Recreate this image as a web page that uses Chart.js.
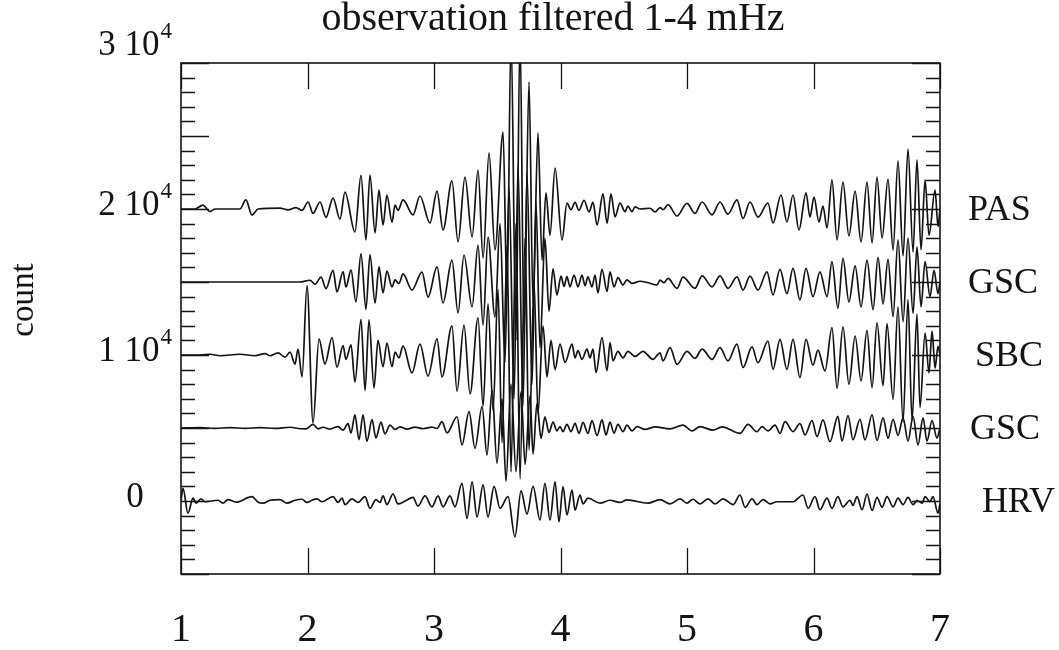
<!DOCTYPE html>
<html>
<head>
    <title>observation filtered 1-4 mHz</title>
    <style>
        body { margin: 0; background: #ffffff; }
        #wrap { width: 1059px; height: 650px; }
    </style>
    <script src="https://cdn.jsdelivr.net/npm/chart.js"></script>
</head>
<body>
<div id="wrap"><canvas id="seisChart" width="1059" height="650"></canvas></div>
<script>
    // axis / label data
    const titleText = 'observation filtered 1-4 mHz';
    const yAxisTitle = 'count';
    const xTickValues = [1, 2, 3, 4, 5, 6, 7];
    const yLabelValues = [30000, 20000, 10000, 0];
    const yLabelMantissa = ['3', '2', '1', '0'];
    const stations = ['PAS', 'GSC', 'SBC', 'GSC', 'HRV'];
    const stationOffsets = [20000, 15000, 10000, 5000, 0];

    // traces: [time, count relative to the trace baseline], read peak by peak
    const pasTrace = [[1.000,0],[1.111,0],[1.174,270],[1.205,0],[1.229,-180],[1.269,0],[1.466,0],[1.513,620],[1.561,-410],[1.609,0],
        [1.783,60],[1.846,-60],[1.909,100],[1.957,-100],[2.004,480],[2.044,-300],[2.099,480],[2.146,-570],[2.202,750],[2.257,-700],
        [2.296,1160],[2.375,-1570],[2.423,2300],[2.462,-2120],[2.494,2330],[2.534,-1640],[2.565,1300],[2.597,-1100],[2.628,960],[2.668,-900],
        [2.692,270],[2.715,-100],[2.755,620],[2.834,-410],[2.889,890],[2.968,-960],[3.024,1230],[3.071,-1440],[3.142,1920],[3.190,-2260],
        [3.245,2190],[3.301,-1920],[3.348,2670],[3.388,-3360],[3.435,3840],[3.482,-2800],[3.546,5270],[3.577,-6000],[3.609,12000],[3.648,-9000],
        [3.680,12000],[3.712,-8500],[3.751,8700],[3.783,-6500],[3.822,5200],[3.854,-3500],[3.885,1100],[3.917,-1800],[3.957,2800],[4.012,-2120],
        [4.051,400],[4.083,-50],[4.115,450],[4.146,-100],[4.186,600],[4.225,-200],[4.257,450],[4.289,-1100],[4.336,1030],[4.368,-980],
        [4.399,1030],[4.431,-530],[4.470,400],[4.510,-180],[4.533,200],[4.565,-180],[4.589,150],[4.628,0],[4.708,50],[4.747,-200],
        [4.787,100],[4.810,-50],[4.850,300],[4.921,-480],[5.000,390],[5.063,-300],[5.119,480],[5.198,-400],[5.261,480],[5.324,-350],
        [5.395,620],[5.443,-650],[5.498,480],[5.561,-550],[5.640,410],[5.680,-960],[5.743,960],[5.790,-890],[5.838,960],[5.885,-1440],
        [5.941,1100],[5.972,-550],[6.004,820],[6.043,-890],[6.075,200],[6.107,-1300],[6.146,1990],[6.186,-2120],[6.233,1850],[6.280,-1850],
        [6.329,1230],[6.376,-2260],[6.423,1850],[6.463,-2330],[6.502,2190],[6.542,-1990],[6.589,2050],[6.629,-2810],[6.668,3290],[6.708,-3220],
        [6.747,4110],[6.787,-2950],[6.818,3360],[6.850,-2800],[6.882,1990],[6.913,-1800],[6.961,1300],[6.984,-1200],[7.000,0]];

    const gscTrace = [[1.000,0],[1.941,0],[2.020,120],[2.060,-150],[2.107,340],[2.146,-450],[2.202,800],[2.233,-680],[2.281,710],[2.304,-340],
        [2.344,820],[2.383,-1370],[2.423,1950],[2.462,-1870],[2.494,1870],[2.534,-1440],[2.565,1030],[2.597,-750],[2.628,750],[2.668,-340],
        [2.692,150],[2.723,-100],[2.755,550],[2.826,-550],[2.905,680],[2.953,-1030],[3.024,1030],[3.071,-1440],[3.142,1500],[3.190,-2120],
        [3.237,1850],[3.301,-1710],[3.348,2530],[3.388,-2950],[3.427,3080],[3.482,-2400],[3.522,4000],[3.561,-5500],[3.593,6500],[3.633,-8000],
        [3.664,8000],[3.704,-8500],[3.735,7500],[3.775,-7000],[3.806,5500],[3.838,-4500],[3.877,3000],[3.909,-2000],[3.941,900],[3.972,-900],
        [4.004,400],[4.028,-300],[4.051,370],[4.075,-330],[4.107,480],[4.138,-330],[4.170,480],[4.194,-250],[4.217,350],[4.249,-330],
        [4.273,480],[4.296,-750],[4.328,870],[4.368,-650],[4.391,700],[4.423,-330],[4.454,300],[4.494,-200],[4.525,150],[4.565,-100],
        [4.628,50],[4.692,-50],[4.763,-200],[4.787,130],[4.818,-50],[4.850,250],[4.921,-430],[4.968,330],[5.063,-430],[5.119,420],
        [5.198,-330],[5.261,420],[5.324,-430],[5.395,350],[5.443,-550],[5.498,400],[5.561,-550],[5.632,700],[5.680,-890],[5.735,870],
        [5.790,-800],[5.838,930],[5.893,-1230],[5.941,930],[5.996,-1000],[6.051,700],[6.107,-1000],[6.146,1390],[6.193,-1800],[6.233,1620],
        [6.280,-1370],[6.329,1100],[6.376,-1700],[6.423,1500],[6.471,-1900],[6.510,1690],[6.550,-1500],[6.589,1550],[6.629,-2370],[6.668,2880],
        [6.708,-2720],[6.747,3000],[6.787,-2150],[6.818,2400],[6.850,-1700],[6.882,1400],[6.921,-1000],[6.953,800],[6.984,-800],[7.000,0]];

    const sbcTrace = [[1.000,0],[1.150,0],[1.229,50],[1.308,-50],[1.466,50],[1.585,-50],[1.664,100],[1.704,-50],[1.767,150],[1.822,-150],
        [1.862,200],[1.901,-620],[1.925,410],[1.957,-1500],[1.996,4750],[2.044,-4650],[2.091,1100],[2.138,-620],[2.194,1200],[2.233,-840],
        [2.281,640],[2.304,-300],[2.344,700],[2.375,-1850],[2.423,2450],[2.455,-2440],[2.486,2400],[2.526,-2260],[2.557,1000],[2.597,-800],
        [2.628,820],[2.668,-800],[2.692,200],[2.723,-200],[2.755,620],[2.826,-1230],[2.889,750],[2.953,-1440],[3.024,1100],[3.063,-1500],
        [3.142,2000],[3.182,-2470],[3.237,2050],[3.285,-2670],[3.348,2550],[3.388,-3500],[3.427,3500],[3.467,-3800],[3.506,4500],[3.538,-6000],
        [3.577,7500],[3.609,-8000],[3.648,9000],[3.680,-8500],[3.720,8000],[3.751,-6500],[3.791,5000],[3.822,-4000],[3.862,2000],[3.893,-1500],
        [3.925,1000],[3.957,-1000],[3.996,750],[4.036,-510],[4.091,750],[4.115,-200],[4.138,300],[4.170,-300],[4.209,400],[4.233,-200],
        [4.257,400],[4.281,-1200],[4.328,1190],[4.368,-1070],[4.391,850],[4.415,-400],[4.454,250],[4.494,-200],[4.533,250],[4.589,-100],
        [4.652,250],[4.731,-300],[4.787,150],[4.810,-400],[4.866,500],[4.921,-640],[5.000,250],[5.063,-230],[5.119,400],[5.198,-300],
        [5.261,500],[5.324,-400],[5.395,750],[5.443,-850],[5.514,550],[5.561,-530],[5.640,960],[5.680,-990],[5.735,1070],[5.790,-1000],
        [5.838,1070],[5.893,-1550],[5.941,1070],[5.996,-700],[6.035,340],[6.091,-1100],[6.146,1870],[6.186,-2280],[6.233,1920],[6.280,-2000],
        [6.329,1300],[6.376,-1780],[6.423,1690],[6.463,-2240],[6.502,2210],[6.550,-2100],[6.581,2150],[6.629,-3040],[6.668,3300],[6.708,-4600],
        [6.747,3800],[6.779,-4500],[6.818,2800],[6.842,-3600],[6.882,1500],[6.913,-1230],[6.937,1640],[6.961,-900],[6.984,600],[7.000,0]];

    const gsc2Trace = [[1.000,0],[1.150,30],[1.269,-30],[1.387,30],[1.506,-30],[1.625,30],[1.743,-30],[1.862,50],[1.941,-50],[1.988,-60],
        [2.044,250],[2.083,-60],[2.123,50],[2.178,-80],[2.241,100],[2.281,-150],[2.320,300],[2.344,-340],[2.375,900],[2.407,-800],
        [2.439,900],[2.470,-910],[2.510,570],[2.541,-680],[2.581,400],[2.612,-400],[2.652,200],[2.692,-100],[2.731,80],[2.787,-80],
        [2.850,60],[2.913,-50],[2.984,60],[3.024,-30],[3.063,430],[3.103,-340],[3.182,770],[3.221,-1160],[3.277,1120],[3.324,-1390],
        [3.380,1460],[3.419,-1850],[3.459,2600],[3.498,-2420],[3.538,2000],[3.569,-3650],[3.609,3000],[3.648,-3000],[3.688,2500],[3.720,-2500],
        [3.759,2200],[3.783,-1800],[3.814,1690],[3.846,-710],[3.877,770],[3.909,-300],[3.941,400],[3.972,-200],[3.996,100],[4.020,-250],
        [4.051,250],[4.083,-250],[4.115,320],[4.146,-370],[4.178,380],[4.217,-370],[4.249,500],[4.289,-520],[4.328,550],[4.360,-480],
        [4.391,400],[4.423,-350],[4.454,250],[4.494,-250],[4.525,200],[4.565,-200],[4.605,100],[4.668,-100],[4.747,80],[4.866,-60],
        [4.968,200],[5.040,-200],[5.103,100],[5.206,-150],[5.277,80],[5.419,-370],[5.482,250],[5.553,-250],[5.593,100],[5.640,-200],
        [5.696,200],[5.735,-370],[5.775,430],[5.838,-250],[5.893,300],[5.933,-480],[5.988,500],[6.028,-590],[6.075,550],[6.130,-940],
        [6.193,800],[6.225,-900],[6.273,850],[6.312,-800],[6.368,600],[6.407,-820],[6.463,900],[6.502,-850],[6.550,700],[6.589,-700],
        [6.629,600],[6.668,-500],[6.708,700],[6.747,-900],[6.787,800],[6.826,-1160],[6.866,700],[6.897,-900],[6.937,500],[6.976,-700],[7.000,0]];

    const hrvTrace = [[1.000,0],[1.016,870],[1.055,-840],[1.095,200],[1.118,-150],[1.158,150],[1.190,-50],[1.292,50],[1.332,-150],[1.371,100],
        [1.435,-80],[1.561,300],[1.609,-80],[1.648,-150],[1.704,50],[1.783,100],[1.838,-150],[1.901,50],[1.957,120],[1.996,-100],
        [2.036,50],[2.075,150],[2.115,-50],[2.202,300],[2.241,-100],[2.273,200],[2.296,-250],[2.352,150],[2.399,-100],[2.455,300],
        [2.494,-500],[2.541,100],[2.573,-100],[2.597,350],[2.628,-250],[2.676,480],[2.715,-200],[2.771,0],[2.834,250],[2.873,-350],
        [2.929,350],[2.984,-400],[3.032,350],[3.071,-400],[3.126,350],[3.166,-400],[3.221,1210],[3.261,-1190],[3.301,1320],[3.340,-1100],
        [3.388,1100],[3.427,-1100],[3.475,1000],[3.522,-500],[3.585,300],[3.640,-2460],[3.688,700],[3.735,-900],[3.783,1000],[3.838,-1300],
        [3.877,1210],[3.917,-1300],[3.957,1320],[3.988,-1420],[4.020,980],[4.051,-960],[4.091,750],[4.115,-620],[4.154,410],[4.178,-200],
        [4.217,200],[4.312,-150],[4.391,50],[4.470,-100],[4.525,80],[4.692,-150],[4.787,100],[4.866,-200],[4.945,150],[5.000,-150],
        [5.048,120],[5.103,-200],[5.166,150],[5.222,-200],[5.285,150],[5.364,-250],[5.419,410],[5.459,-430],[5.514,150],[5.553,-250],
        [5.601,100],[5.656,-200],[5.712,-50],[5.838,-50],[5.917,410],[5.957,-500],[6.012,300],[6.051,-600],[6.107,200],[6.146,-500],
        [6.193,300],[6.233,-400],[6.289,50],[6.312,-300],[6.344,300],[6.384,-600],[6.423,480],[6.463,-650],[6.502,250],[6.542,-430],
        [6.581,300],[6.629,-400],[6.668,200],[6.708,-250],[6.747,250],[6.787,-250],[6.818,50],[6.858,-150],[6.882,300],[6.921,-50],
        [6.945,300],[6.984,-830],[7.000,-200]];

    const traces = [pasTrace, gscTrace, sbcTrace, gsc2Trace, hrvTrace];

    const serif = "'Liberation Serif', 'Times New Roman', serif";
    const ink = '#141414';

    const datasets = traces.map((trace, i) => ({
        label: stations[i],
        data: trace.map(p => ({ x: p[0], y: p[1] + stationOffsets[i] })),
        borderColor: ink,
        borderWidth: 1.7,
        pointRadius: 0,
        fill: false,
        cubicInterpolationMode: 'monotone'
    }));

    // frame, inside ticks and all the text
    const decorPlugin = {
        id: 'decor',
        afterDraw(chart) {
            const ctx = chart.ctx;
            const area = chart.chartArea;
            const xs = chart.scales.x;
            const ys = chart.scales.y;
            ctx.save();
            ctx.strokeStyle = ink;
            ctx.lineWidth = 1.6;
            ctx.strokeRect(area.left, area.top, area.right - area.left, area.bottom - area.top);

            ctx.lineWidth = 1.3;
            ctx.beginPath();
            for (let v = ys.min; v <= ys.max; v += 1000) {
                const y = Math.round(ys.getPixelForValue(v)) + 0.5;
                const len = (v % 5000 === 0) ? 28 : 14;
                ctx.moveTo(area.left, y); ctx.lineTo(area.left + len, y);
                ctx.moveTo(area.right, y); ctx.lineTo(area.right - len, y);
            }
            xTickValues.forEach(v => {
                const x = Math.round(xs.getPixelForValue(v)) + 0.5;
                ctx.moveTo(x, area.bottom); ctx.lineTo(x, area.bottom - 26);
                ctx.moveTo(x, area.top); ctx.lineTo(x, area.top + 26);
            });
            ctx.stroke();

            ctx.fillStyle = ink;
            ctx.textBaseline = 'middle';

            // title
            ctx.textAlign = 'center';
            ctx.font = '40px ' + serif;
            ctx.fillText(titleText, 553, 19);

            // x labels
            ctx.font = '40px ' + serif;
            xTickValues.forEach(v => {
                ctx.fillText(String(v), xs.getPixelForValue(v), 630);
            });

            // y labels with superscript exponent
            yLabelValues.forEach((v, i) => {
                let y = ys.getPixelForValue(v) - 3;
                if (v === ys.max) y -= 14;
                const main = v === 0 ? '0' : yLabelMantissa[i] + ' 10';
                ctx.font = '35px ' + serif;
                const wMain = ctx.measureText(main).width;
                let wSup = 0;
                if (v !== 0) {
                    ctx.font = '23px ' + serif;
                    wSup = ctx.measureText('4').width + 1;
                }
                const x0 = 135 - (wMain + wSup) / 2;
                ctx.textAlign = 'left';
                ctx.font = '35px ' + serif;
                ctx.fillText(main, x0, y);
                if (v !== 0) {
                    ctx.font = '23px ' + serif;
                    ctx.fillText('4', x0 + wMain + 1, y - 14);
                }
            });

            // axis title
            ctx.save();
            ctx.translate(24, 300);
            ctx.rotate(-Math.PI / 2);
            ctx.textAlign = 'center';
            ctx.font = '33px ' + serif;
            ctx.fillText(yAxisTitle, 0, 0);
            ctx.restore();

            // station names, right end kept inside the page
            ctx.textAlign = 'left';
            ctx.font = '36px ' + serif;
            const nameX = [968, 968, 975, 970, 1001];
            stations.forEach((name, i) => {
                const w = ctx.measureText(name).width;
                const x = Math.min(nameX[i], 1055 - w);
                ctx.fillText(name, x, ys.getPixelForValue(stationOffsets[i]) + 2);
            });
            ctx.restore();
        }
    };

    new Chart(document.getElementById('seisChart'), {
        type: 'line',
        data: { datasets: datasets },
        options: {
            responsive: false,
            animation: false,
            devicePixelRatio: 1,
            layout: { padding: { left: 0, right: 119, top: 63, bottom: 0 } },
            plugins: { legend: { display: false }, tooltip: { enabled: false } },
            scales: {
                x: {
                    type: 'linear', min: 1, max: 7,
                    grid: { display: false }, border: { display: false },
                    ticks: { display: false },
                    afterFit: s => { s.height = 76; }
                },
                y: {
                    min: -5000, max: 30000,
                    grid: { display: false }, border: { display: false },
                    ticks: { display: false },
                    afterFit: s => { s.width = 181; }
                }
            }
        },
        plugins: [decorPlugin]
    });
</script>
</body>
</html>
